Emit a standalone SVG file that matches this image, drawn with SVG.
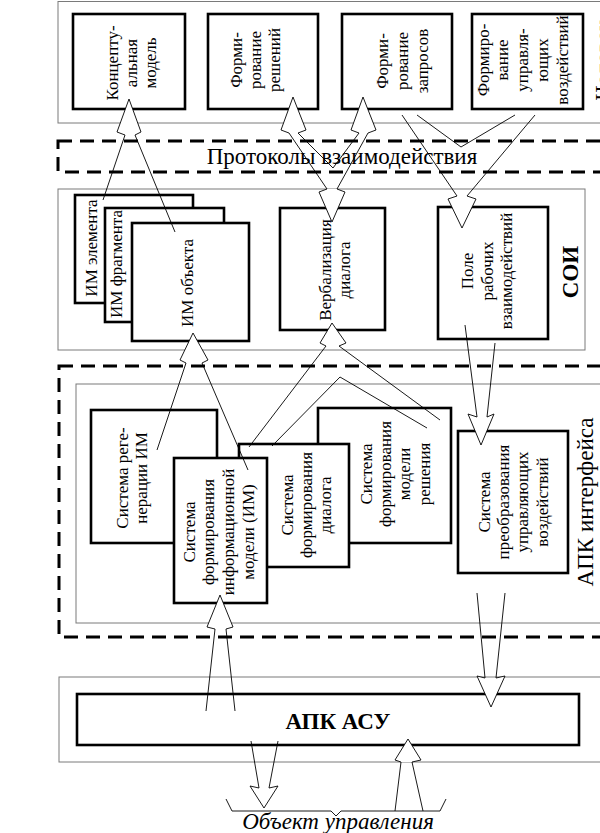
<svg xmlns="http://www.w3.org/2000/svg" width="600" height="833" viewBox="0 0 600 833">
<style>
.bg{fill:#fff}
.gray{fill:none;stroke:#7a7a7a;stroke-width:1}
.box{fill:#fff;stroke:#000;stroke-width:2.6}
.dash{fill:none;stroke:#000;stroke-width:3;stroke-dasharray:14 8}
.arr{fill:none;stroke:#000;stroke-width:0.9;stroke-linejoin:miter}
.head{fill:#fff;stroke:none}
.t{font-family:"Liberation Serif","Times New Roman",serif;font-size:17px;fill:#000}
.big{font-family:"Liberation Serif","Times New Roman",serif;font-size:23px;fill:#000}
.b{font-weight:bold}
</style>
<rect class="bg" x="0" y="0" width="600" height="833"/>

<!-- containers -->
<g id="containers">
  <rect class="gray" x="58" y="1.5" width="600" height="121.5"/>
  <rect class="dash" x="58" y="141" width="600" height="31"/>
  <rect class="gray" x="58" y="189" width="527" height="161"/>
  <rect class="dash" x="59" y="366" width="600" height="271"/>
  <rect class="gray" x="76" y="384" width="600" height="239"/>
  <rect class="gray" x="59" y="677" width="600" height="85"/>
  <text class="big" x="342" y="164" text-anchor="middle" font-size="25">Протоколы взаимодействия</text>
  <text class="big" transform="rotate(-90)" x="-60" y="611" text-anchor="middle" font-size="27">Человек</text>
  <text class="big b" transform="rotate(-90)" x="-272" y="578" text-anchor="middle" font-size="32">СОИ</text>
  <text class="big" transform="rotate(-90)" x="-502" y="593" text-anchor="middle" font-size="24">АПК интерфейса</text>
</g>

<!-- top row -->
<g id="n-concept">
  <rect class="box" x="73" y="14" width="112" height="95"/>
  <text class="t" transform="rotate(-90)" text-anchor="middle"><tspan x="-63" y="118">Концепту-</tspan><tspan x="-63" y="137">альная</tspan><tspan x="-63" y="156">модель</tspan></text>
</g>
<g id="n-decisions">
  <rect class="box" x="208" y="14" width="110" height="95"/>
  <text class="t" transform="rotate(-90)" text-anchor="middle"><tspan x="-60" y="242">Форми-</tspan><tspan x="-60" y="261">рование</tspan><tspan x="-60" y="280">решений</tspan></text>
</g>
<g id="n-requests">
  <rect class="box" x="342" y="14" width="110" height="95"/>
  <text class="t" transform="rotate(-90)" text-anchor="middle"><tspan x="-61" y="388">Форми-</tspan><tspan x="-61" y="408">рование</tspan><tspan x="-61" y="428">запросов</tspan></text>
</g>
<g id="n-control">
  <rect class="box" x="472" y="14" width="111" height="95"/>
  <text class="t" transform="rotate(-90)" text-anchor="middle"><tspan x="-60" y="489">Формиро-</tspan><tspan x="-60" y="508">вание</tspan><tspan x="-60" y="528">управля-</tspan><tspan x="-60" y="548">ющих</tspan><tspan x="-60" y="568">воздействий</tspan></text>
</g>

<!-- SOI -->
<g id="n-im-element">
  <rect class="box" x="75" y="195" width="118" height="108"/>
  <text class="t" transform="rotate(-90)" text-anchor="middle" x="-248" y="97">ИМ элемента</text>
</g>
<g id="n-im-fragment">
  <rect class="box" x="105" y="208" width="119" height="114"/>
  <text class="t" transform="rotate(-90)" text-anchor="middle" x="-264" y="122">ИМ фрагмента</text>
</g>
<g id="n-im-object">
  <rect class="box" x="132" y="223" width="117" height="118"/>
  <text class="t" transform="rotate(-90)" text-anchor="middle" x="-283" y="193">ИМ объекта</text>
</g>
<g id="n-verbal">
  <rect class="box" x="280" y="208" width="105" height="122"/>
  <text class="t" transform="rotate(-90)" text-anchor="middle"><tspan x="-270" y="331">Вербализация</tspan><tspan x="-270" y="350">диалога</tspan></text>
</g>
<g id="n-field">
  <rect class="box" x="438" y="207" width="110" height="132"/>
  <text class="t" transform="rotate(-90)" text-anchor="middle"><tspan x="-271" y="473">Поле</tspan><tspan x="-271" y="493">рабочих</tspan><tspan x="-271" y="512">взаимодействий</tspan></text>
</g>

<!-- interface -->
<g id="n-regen">
  <rect class="box" x="91" y="410" width="126" height="133"/>
  <text class="t" transform="rotate(-90)" text-anchor="middle"><tspan x="-478" y="128">Система реге-</tspan><tspan x="-478" y="147">нерации ИМ</tspan></text>
</g>
<g id="n-decision-model">
  <rect class="box" x="318" y="408" width="133" height="135"/>
  <text class="t" transform="rotate(-90)" text-anchor="middle"><tspan x="-474" y="372">Система</tspan><tspan x="-474" y="391">формирования</tspan><tspan x="-474" y="410">модели</tspan><tspan x="-474" y="430">решения</tspan></text>
</g>
<g id="n-dialog">
  <rect class="box" x="239" y="444" width="110" height="123"/>
  <text class="t" transform="rotate(-90)" text-anchor="middle"><tspan x="-505" y="293">Система</tspan><tspan x="-505" y="312">формирования</tspan><tspan x="-505" y="331">диалога</tspan></text>
</g>
<g id="n-infomodel">
  <rect class="box" x="174" y="458" width="93" height="145"/>
  <text class="t" transform="rotate(-90)" text-anchor="middle"><tspan x="-532" y="195">Система</tspan><tspan x="-532" y="214">формирования</tspan><tspan x="-532" y="234">информационной</tspan><tspan x="-532" y="254">модели (ИМ)</tspan></text>
</g>
<g id="n-transform">
  <rect class="box" x="458" y="431" width="110" height="142"/>
  <text class="t" transform="rotate(-90)" text-anchor="middle"><tspan x="-502" y="490">Система</tspan><tspan x="-502" y="509">преобразования</tspan><tspan x="-502" y="528">управляющих</tspan><tspan x="-502" y="548">воздействий</tspan></text>
</g>

<!-- bottom -->
<g id="n-apk-asu">
  <rect class="box" x="77" y="694" width="502" height="51"/>
  <text class="big b" x="338" y="729" text-anchor="middle" font-size="24">АПК  АСУ</text>
</g>
<g id="n-object">
  <path class="arr" d="M226,799 L232,811 L331,811 L336,816 L341,811 L440,811 L446,799"/>
  <text class="big" x="338" y="829" text-anchor="middle" font-size="26.5" font-style="italic">Объект управления</text>
</g>

<!-- connectors -->
<g id="connectors">
  <!-- A1 -->
  <polygon class="head" points="129,99 117,132 125,135 135,135 141,132"/>
  <polyline class="arr" points="103,200 125,135 117,132 129,99 141,132 135,135 175,232"/>
  <!-- A2 fork -->
  <polygon class="head" points="293,97 281,130 289,133 298,133 306,130"/>
  <polygon class="head" points="363,97 351,130 359,133 368,133 376,130"/>
  <polygon class="head" points="332,222 319,192 327,189 337,189 345,192"/>
  <polygon class="arr" points="327,189 289,133 281,130 293,97 306,130 298,133 333,168 359,133 351,130 363,97 376,130 368,133 337,189 345,192 332,222 319,192"/>
  <!-- A3 -->
  <polygon class="head" points="193,333 180,360 186,363 202,363 208,360"/>
  <polyline class="arr" points="157,450 186,363 180,360 193,333 208,360 202,363 248,470"/>
  <!-- A4 fork down -->
  <polygon class="head" points="462,228 448,199 457,196 467,196 476,199"/>
  <polyline class="arr" points="402,115 457,196 448,199 462,228 476,199 467,196 535,115"/>
  <polyline class="arr" points="417,115 461,147 515,115"/>
  <!-- A5 -->
  <polygon class="head" points="481,445 468,414 477,417 487,417 494,414"/>
  <polyline class="arr" points="465,325 477,417 468,414 481,445 494,414 487,417 495,343"/>
  <!-- A6 -->
  <polygon class="head" points="491,707 477,676 485,678 496,678 505,676"/>
  <polyline class="arr" points="477,593 485,678 477,676 491,707 505,676 496,678 505,593"/>
  <!-- A7 -->
  <polygon class="head" points="220,595 207,627 215,629 226,629 233,627"/>
  <polyline class="arr" points="206,711 215,629 207,627 220,595 233,627 226,629 235,711"/>
  <!-- A8 -->
  <polygon class="head" points="264,808 250,786 259,788 269,788 278,786"/>
  <polyline class="arr" points="251,741 259,788 250,786 264,808 278,786 269,788 278,741"/>
  <!-- A9 -->
  <polygon class="head" points="408,739 395,760 401,762 412,762 421,760"/>
  <polyline class="arr" points="395,811 401,762 395,760 408,739 421,760 412,762 423,811"/>
  <!-- A10 fork up -->
  <polygon class="head" points="332,323 320,343 326,346 339,346 346,343"/>
  <polyline class="arr" points="249,447 326,346 320,343 332,323 346,343 339,346 440,420"/>
  <polyline class="arr" points="272,446 340,377 427,428"/>
</g>
</svg>
